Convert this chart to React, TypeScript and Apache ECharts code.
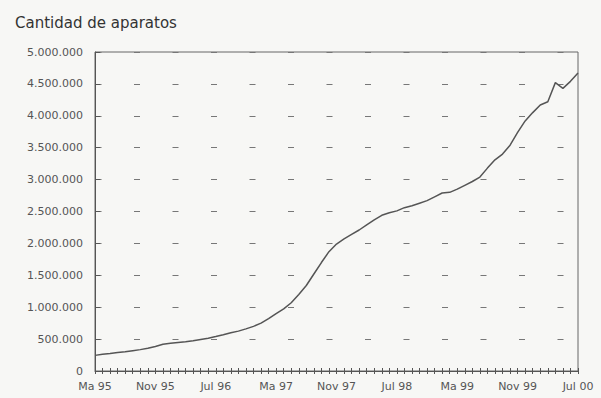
import React, { useEffect, useRef } from "react";
import * as echarts from "echarts";

const monthNames = ["Mar", "Abr", "May", "Jun", "Jul", "Ago", "Sep", "Oct", "Nov", "Dic", "Ene", "Feb"];
const startYear = 1995;
const monthCount = 65;

const tickLabels = ["Ma 95", "Nov 95", "Jul 96", "Ma 97", "Nov 97", "Jul 98", "Ma 99", "Nov 99", "Jul 00"];

const aparatos = [
  245000, 262000, 275000, 290000, 300000, 318000, 335000, 358000, 385000, 420000,
  435000, 448000, 460000, 475000, 495000, 515000, 540000, 568000, 598000, 625000,
  660000, 700000, 750000, 820000, 900000, 975000, 1070000, 1200000, 1340000, 1520000,
  1700000, 1870000, 1990000, 2070000, 2140000, 2210000, 2290000, 2370000, 2440000, 2480000,
  2510000, 2560000, 2590000, 2630000, 2670000, 2730000, 2790000, 2800000, 2850000, 2910000,
  2970000, 3040000, 3180000, 3310000, 3400000, 3540000, 3740000, 3920000, 4050000, 4170000,
  4220000, 4520000, 4430000, 4540000, 4670000,
];

const categories: string[] = [];
for (let i = 0; i < monthCount; i++) {
  const m = i % 12;
  const y = startYear + Math.floor((i + 2) / 12);
  categories.push(monthNames[m] + " " + String(y).slice(2));
}

const fmt = (v: number) => String(v).replace(/\B(?=(\d{3})+(?!\d))/g, ".");

export default function App() {
  const ref = useRef<HTMLDivElement>(null);
  useEffect(() => {
    if (!ref.current) return;
    const chart = echarts.init(ref.current, null, { renderer: "svg" });
    const axisColor = "#555";
    chart.setOption({
      animation: false,
      backgroundColor: "#f7f7f5",
      title: {
        text: "Cantidad de aparatos",
        left: 10,
        top: 10,
        textStyle: { fontFamily: "DejaVu Sans", fontSize: 15, fontWeight: "normal", color: "#333" },
      },
      grid: {
        left: 95,
        right: 23,
        top: 52,
        bottom: 27,
        show: true,
        borderColor: "#666",
        borderWidth: 1,
        backgroundColor: "transparent",
      },
      xAxis: [
        {
          type: "category",
          data: categories,
          boundaryGap: false,
          position: "bottom",
          axisLine: { lineStyle: { color: axisColor, width: 1 } },
          axisTick: { show: true, interval: 0, length: 3, lineStyle: { color: axisColor } },
          axisLabel: {
            interval: 7,
            margin: 10,
            fontFamily: "DejaVu Sans",
            fontSize: 11,
            color: "#555",
            formatter: (_v: string, idx: number) => tickLabels[Math.round(idx / 8)] ?? "",
          },
          splitLine: { show: false },
        },
        {
          type: "category",
          data: categories,
          boundaryGap: false,
          position: "bottom",
          offset: 0,
          axisLine: { show: false },
          axisTick: { show: true, inside: true, interval: 0, length: 3, lineStyle: { color: axisColor } },
          axisLabel: { show: false },
          splitLine: { show: false },
        },
      ],
      yAxis: {
        type: "value",
        min: 0,
        max: 5000000,
        interval: 500000,
        axisLine: { show: true, lineStyle: { color: axisColor, width: 1 } },
        axisTick: { show: true, inside: true, length: 5, lineStyle: { color: axisColor } },
        axisLabel: {
          margin: 12,
          fontFamily: "DejaVu Sans",
          fontSize: 11,
          color: "#555",
          formatter: (v: number) => fmt(v),
        },
        splitLine: {
          show: true,
          lineStyle: { color: "#777", width: 1.2, type: [6, 32.5], dashOffset: 38 },
        },
      },
      series: [
        {
          type: "line",
          data: aparatos,
          xAxisIndex: 0,
          symbol: "none",
          lineStyle: { color: "#555", width: 1.5 },
        },
      ],
    });
    return () => chart.dispose();
  }, []);
  return (
    <div
      ref={ref}
      style={{ position: "fixed", left: 0, top: 0, width: 601, height: 398 }}
    />
  );
}
